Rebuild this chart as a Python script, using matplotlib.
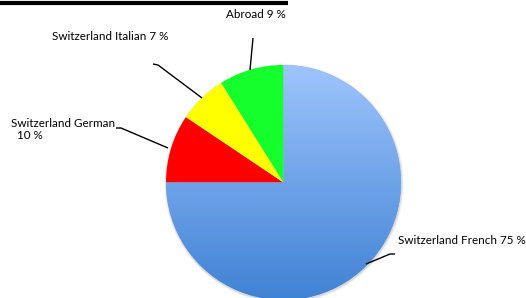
import numpy as np
import matplotlib.pyplot as plt
from matplotlib.patches import Wedge

plt.rcParams['font.family'] = ['Lato', 'DejaVu Sans']

# shares, labels as printed on the chart
regions = ['Switzerland French', 'Switzerland German', 'Switzerland Italian', 'Abroad']
shares = [75.0, 9.4, 6.7, 8.9]
label_texts = ['Switzerland French 75 %', 'Switzerland German\n  10 %',
               'Switzerland Italian 7 %', 'Abroad 9 %']
colors = ['#6fa5ec', '#ff0000', '#ffff00', '#14ff2c']

W, H = 526, 298
fig = plt.figure(figsize=(W / 100, H / 100), dpi=100)
ax = fig.add_axes([0, 0, 1, 1])

cx, cy, r = 283.5, H - 182.5, 117.5

# soft shadow under the pie
for k, a in enumerate([0.07, 0.05, 0.03]):
    sh = Wedge((cx + 0.5, cy - 1.0), r + 0.8 + 0.8 * k, 0, 360,
               color='black', alpha=a, lw=0)
    ax.add_patch(sh)

wedges, _ = ax.pie(shares, colors=colors, startangle=90, counterclock=False,
                   center=(cx, cy), radius=r,
                   wedgeprops=dict(linewidth=0))

# vertical gradient on the big blue slice
grad = np.linspace(0, 1, 256).reshape(-1, 1)
top = np.array([0.62, 0.77, 0.99])
bottom = np.array([0.25, 0.51, 0.83])
img = top + (bottom - top) * grad[..., None]
im = ax.imshow(img, extent=(cx - r, cx + r, cy - r, cy + r), origin='upper',
               aspect='auto', zorder=wedges[0].get_zorder() + 0.1)
im.set_clip_path(wedges[0])

# labels and leader lines (pixel coords from top-left)
def leader(pts):
    xs = [p[0] for p in pts]
    ys = [H - p[1] for p in pts]
    ax.plot(xs, ys, color='black', lw=1.0, solid_capstyle='butt', zorder=5)

leader([(395, 254), (390, 254), (366, 264)])
leader([(116, 128), (121, 128), (168, 148)])
leader([(153, 64), (158, 65), (202, 98)])
leader([(253, 38), (250, 70)])

fs = 8.4
ax.text(398, H - 240, label_texts[0], fontsize=fs, ha='left', va='center')
ax.text(11, H - 129.5, label_texts[1], fontsize=fs, ha='left', va='center',
        linespacing=1.2)
ax.text(52, H - 37, label_texts[2], fontsize=fs, ha='left', va='center')
ax.text(226, H - 15, label_texts[3], fontsize=fs, ha='left', va='center')

# black rule at the top (title underline, title itself cut off)
ax.plot([0, 288], [H - 3, H - 3], color='black', lw=3, solid_capstyle='butt')

ax.set_xlim(0, W)
ax.set_ylim(0, H)
ax.set_aspect('auto')
ax.axis('off')

fig.savefig('out.png', dpi=100)
